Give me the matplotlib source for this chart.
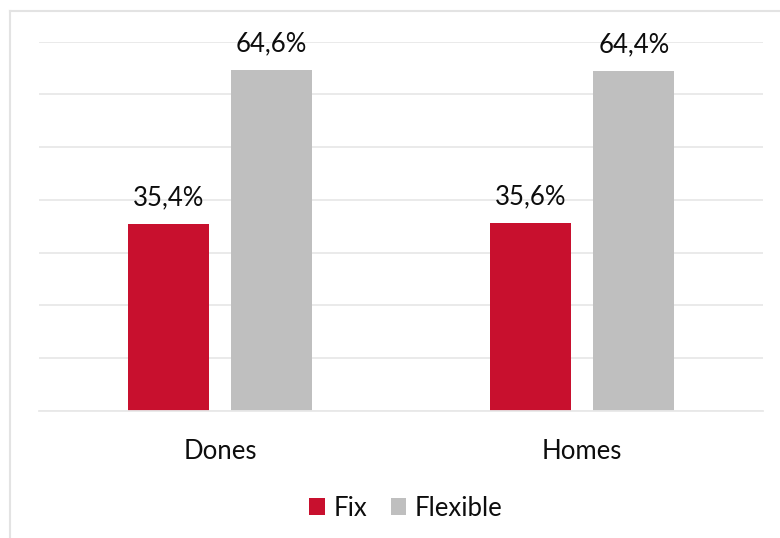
import matplotlib.pyplot as plt
import numpy as np
from matplotlib.lines import Line2D

# Share of each group, in percent
categories = ['Dones', 'Homes']
fix_values = [35.4, 35.6]
flexible_values = [64.6, 64.4]
series_labels = ['Fix', 'Flexible']

RED = '#C8102E'
GREY = '#BFBFBF'
GRID = '#E8E8E8'
FONT_SIZE = 18.5

plt.rcParams['font.family'] = ['Lato', 'DejaVu Sans']

fig = plt.figure(figsize=(7.8, 5.38), dpi=100)
ax = fig.add_axes([39 / 780, 1 - 411 / 538, (763 - 39) / 780, (411 - 41.6) / 538])

x = np.arange(len(categories))
width = 0.224
offset = 0.143

bars_fix = ax.bar(x - offset, fix_values, width, color=RED, label=series_labels[0], zorder=2)
bars_flex = ax.bar(x + offset, flexible_values, width, color=GREY, label=series_labels[1], zorder=2)

for bars in (bars_fix, bars_flex):
    ax.bar_label(bars, labels=[f'{v:.1f}%'.replace('.', ',') for v in bars.datavalues],
                 padding=10, fontsize=FONT_SIZE, color='#0D0D0D')

ax.set_xlim(-0.5, 1.5)
ax.set_ylim(0, 70)
ax.set_yticks(np.arange(0, 71, 10))
ax.yaxis.grid(True, color=GRID, linewidth=1.3, zorder=0)
ax.tick_params(axis='y', left=False, labelleft=False)
ax.tick_params(axis='x', bottom=False, pad=16.5, labelsize=FONT_SIZE, labelcolor='#0D0D0D')
ax.set_xticks(x)
ax.set_xticklabels(categories)
for side in ('top', 'right', 'left'):
    ax.spines[side].set_visible(False)
ax.spines['bottom'].set_color(GRID)
ax.spines['bottom'].set_linewidth(1.3)

fig.legend(handles=[bars_fix, bars_flex], labels=series_labels, loc='center',
           bbox_to_anchor=(406 / 780, 1 - 508 / 538), ncol=2, frameon=False,
           fontsize=FONT_SIZE, handlelength=0.6, handleheight=0.6, handletextpad=0.35,
           columnspacing=0.9, labelcolor='#0D0D0D')

# outer chart frame
fig.add_artist(Line2D([10 / 780, 10 / 780], [0, 1 - 11 / 538], transform=fig.transFigure,
                      color='#E3E3E3', linewidth=1.5))
fig.add_artist(Line2D([10 / 780, 1], [1 - 11 / 538, 1 - 11 / 538], transform=fig.transFigure,
                      color='#E3E3E3', linewidth=1.5))

fig.savefig('out.png', dpi=100, facecolor='white')
